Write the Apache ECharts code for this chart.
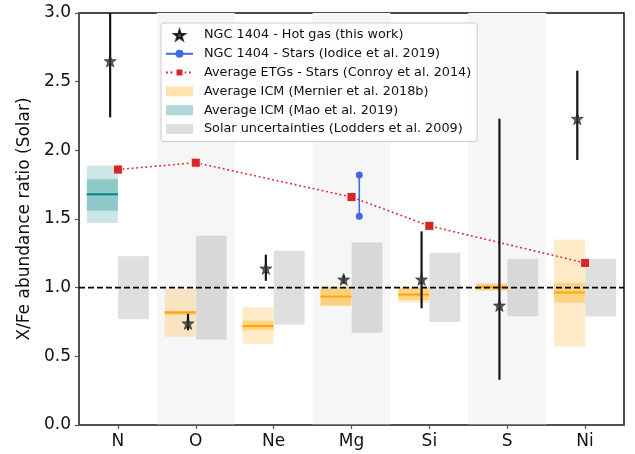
<!DOCTYPE html>
<html>
<head>
<meta charset="utf-8">
<script src="https://cdn.jsdelivr.net/npm/echarts@6/dist/echarts.min.js"></script>
<style>
  html, body { margin: 0; padding: 0; background: #fff; }
  #chart { width: 635px; height: 454px; }
</style>
</head>
<body>
<div id="chart"></div>
<script>
// Elements on the x axis
const elements = ['N', 'O', 'Ne', 'Mg', 'Si', 'S', 'Ni'];

// NGC 1404 hot gas: best fit and 1-sigma range
const hotGasRatio = [2.65, 0.74, 1.14, 1.06, 1.06, 0.87, 2.23];
const hotGasLow   = [2.24, 0.69, 1.05, 1.03, 0.85, 0.33, 1.93];
const hotGasHigh  = [3.06, 0.81, 1.24, 1.09, 1.41, 2.23, 2.58];

// NGC 1404 stars (Iodice et al. 2019), Mg only
const iodiceMg = [1.52, 1.82];

// Average ETG stars (Conroy et al. 2014); null where not measured
const etgRatio = [1.86, 1.91, null, 1.66, 1.45, null, 1.18];

// Average ICM (Mernier et al. 2018b): outer range, inner range, mean
const mernierOuterLow  = [null, 0.64, 0.59, 0.865, 0.89, 0.98, 0.57];
const mernierOuterHigh = [null, 0.99, 0.86, 1.01, 1.01, 1.03, 1.35];
const mernierInnerLow  = [null, 0.80, 0.69, 0.87, 0.91, 0.98, 0.89];
const mernierInnerHigh = [null, 0.83, 0.76, 1.005, 1.00, 1.03, 1.035];
const mernierMean      = [null, 0.82, 0.72, 0.935, 0.95, 1.005, 0.965];

// Average ICM (Mao et al. 2019), N only
const maoOuter = [1.47, 1.89];
const maoInner = [1.56, 1.79];
const maoMean = 1.68;

// Solar uncertainties (Lodders et al. 2009)
const solarLow  = [0.77, 0.62, 0.73, 0.67, 0.75, 0.79, 0.79];
const solarHigh = [1.23, 1.38, 1.27, 1.33, 1.255, 1.21, 1.21];

// Y axis ticks
const yTicks = ['0.0', '0.5', '1.0', '1.5', '2.0', '2.5', '3.0'];

const FONT = 'DejaVu Sans';
const STAR = 'path://M0,-10 L2.35,-3.24 L9.51,-3.09 L3.8,1.24 L5.88,8.09 L0,4 L-5.88,8.09 L-3.8,1.24 L-9.51,-3.09 L-2.35,-3.24 Z';

const names = {
  gas: 'NGC 1404 - Hot gas (this work)',
  iodice: 'NGC 1404 - Stars (Iodice et al. 2019)',
  etg: 'Average ETGs - Stars (Conroy et al. 2014)',
  mernier: 'Average ICM (Mernier et al. 2018b)',
  mao: 'Average ICM (Mao et al. 2019)',
  solar: 'Solar uncertainties (Lodders et al. 2009)'
};

// Box with optional inner band and mean line, placed beside the element
function boxRenderer(outerFill, innerFill, lineColor, x0, x1) {
  return function (params, api) {
    const i = api.value(0);
    const children = [];
    const a = api.coord([i + x0, api.value(2)]);
    const b = api.coord([i + x1, api.value(1)]);
    children.push({
      type: 'rect',
      shape: { x: a[0], y: a[1], width: b[0] - a[0], height: b[1] - a[1] },
      style: { fill: outerFill, stroke: 'rgba(255,255,255,0.25)', lineWidth: 1 }
    });
    if (innerFill) {
      const c = api.coord([i + x0, api.value(4)]);
      const d = api.coord([i + x1, api.value(3)]);
      children.push({
        type: 'rect',
        shape: { x: c[0], y: c[1], width: d[0] - c[0], height: d[1] - c[1] },
        style: { fill: innerFill }
      });
      const m = api.coord([i + x0, api.value(5)]);
      children.push({
        type: 'line',
        shape: { x1: m[0], y1: m[1], x2: b[0], y2: m[1] },
        style: { stroke: lineColor, lineWidth: 2 }
      });
    }
    return { type: 'group', children: children };
  };
}

const solarData = elements.map((e, i) => [i, solarLow[i], solarHigh[i]]);
const mernierData = [];
elements.forEach((e, i) => {
  if (mernierMean[i] != null) {
    mernierData.push([i, mernierOuterLow[i], mernierOuterHigh[i],
      mernierInnerLow[i], mernierInnerHigh[i], mernierMean[i]]);
  }
});
const maoData = [[elements.indexOf('N'), maoOuter[0], maoOuter[1], maoInner[0], maoInner[1], maoMean]];
const bandData = elements.map((e, i) => i).filter(i => i % 2 === 1).map(i => [i]);

const gasOffset = -0.1;
const gasErrData = elements.map((e, i) => [i + gasOffset, hotGasLow[i], hotGasHigh[i]]);
const gasData = elements.map((e, i) => [i + gasOffset, hotGasRatio[i]]);
const mgIndex = elements.indexOf('Mg');
const iodiceData = iodiceMg.map(v => [mgIndex + 0.1, v]);
const etgData = etgRatio.map((v, i) => [i, v]);

const chart = echarts.init(document.getElementById('chart'), null, { renderer: 'canvas' });

chart.setOption({
  animation: false,
  textStyle: { fontFamily: FONT },
  grid: {
    left: 79, right: 11, top: 13, bottom: 29,
    show: true, borderColor: '#111', borderWidth: 1.5, backgroundColor: 'transparent'
  },
  legend: {
    orient: 'vertical',
    left: 161, top: 23,
    itemWidth: 27, itemHeight: 10, itemGap: 5.8,
    padding: [5.5, 6, 6, 4],
    backgroundColor: 'rgba(255,255,255,0.85)',
    borderColor: '#cccccc', borderWidth: 1, borderRadius: 3,
    textStyle: { fontFamily: FONT, fontSize: 12.8, lineHeight: 13, color: '#111', padding: [0, 0, 0, 6] },
    z: 20,
    data: [
      { name: names.gas, icon: STAR, itemStyle: { color: '#2b2b2b' } },
      { name: names.iodice },
      { name: names.etg },
      { name: names.mernier, icon: 'rect', itemStyle: { color: 'rgba(255,165,0,0.3)' } },
      { name: names.mao, icon: 'rect', itemStyle: { color: 'rgba(0,128,128,0.3)' } },
      { name: names.solar, icon: 'rect', itemStyle: { color: 'rgba(128,128,128,0.25)' } }
    ]
  },
  xAxis: [
    {
      type: 'category',
      data: elements,
      boundaryGap: true,
      axisLine: { show: true, onZero: false, lineStyle: { color: '#555', width: 1.5 } },
      axisTick: { show: true, alignWithLabel: true, length: 4, lineStyle: { color: '#555', width: 1.2 } },
      axisLabel: { fontSize: 17, color: '#111', margin: 8, fontFamily: FONT },
      splitLine: { show: false }
    },
    {
      type: 'value',
      min: -0.5, max: 6.5,
      show: false,
      axisLine: { onZero: false },
      splitLine: { show: false }
    }
  ],
  yAxis: {
    type: 'value',
    min: 0, max: 3, interval: 0.5,
    name: 'X/Fe abundance ratio (Solar)',
    nameLocation: 'middle',
    nameGap: 46,
    nameTextStyle: { fontSize: 17, color: '#111', fontFamily: FONT },
    axisLine: { show: true, onZero: false, lineStyle: { color: '#555', width: 1.5 } },
    axisTick: { show: true, length: 4, lineStyle: { color: '#555', width: 1.2 } },
    axisLabel: {
      fontSize: 17, color: '#111', margin: 8, fontFamily: FONT,
      formatter: v => yTicks[Math.round(v / 0.5)]
    },
    splitLine: { show: false }
  },
  series: [
    {
      // alternating background bands
      type: 'custom', xAxisIndex: 1, silent: true, z: 0,
      data: bandData,
      renderItem: function (params, api) {
        const i = api.value(0);
        const a = api.coord([i - 0.5, 3]);
        const b = api.coord([i + 0.5, 0]);
        return { type: 'rect', shape: { x: a[0], y: a[1], width: b[0] - a[0], height: b[1] - a[1] },
                 style: { fill: '#f6f6f6' } };
      }
    },
    {
      name: names.solar, type: 'custom', xAxisIndex: 1, silent: true, z: 1,
      itemStyle: { color: 'rgba(128,128,128,0.25)' },
      data: solarData,
      renderItem: boxRenderer('rgba(128,128,128,0.25)', null, null, 0, 0.4)
    },
    {
      name: names.mernier, type: 'custom', xAxisIndex: 1, silent: true, z: 2,
      itemStyle: { color: 'rgba(255,165,0,0.3)' },
      data: mernierData,
      renderItem: boxRenderer('rgba(255,165,0,0.22)', 'rgba(255,165,0,0.33)', '#ffa500', -0.4, 0)
    },
    {
      name: names.mao, type: 'custom', xAxisIndex: 1, silent: true, z: 2,
      itemStyle: { color: 'rgba(0,128,128,0.3)' },
      data: maoData,
      renderItem: boxRenderer('rgba(0,128,128,0.2)', 'rgba(0,128,128,0.3)', '#008080', -0.4, 0)
    },
    {
      // solar reference level
      type: 'line', xAxisIndex: 1, silent: true, z: 3,
      data: [[-0.5, 1], [6.5, 1]],
      symbol: 'none',
      lineStyle: { color: '#000', width: 1.6, type: [6, 3] }
    },
    {
      name: names.etg, type: 'line', xAxisIndex: 1, z: 4,
      data: etgData,
      connectNulls: true,
      symbol: 'rect', symbolSize: 9,
      itemStyle: { color: '#d62728', borderColor: '#fff', borderWidth: 0.8 },
      lineStyle: { color: '#d62728', width: 1.6, type: [1.8, 2.8] }
    },
    {
      name: names.iodice, type: 'line', xAxisIndex: 1, z: 4,
      data: iodiceData,
      symbol: 'circle', symbolSize: 7,
      itemStyle: { color: '#4169e1' },
      lineStyle: { color: '#4169e1', width: 1.6 }
    },
    {
      // hot gas error bars
      type: 'custom', xAxisIndex: 1, silent: true, z: 5, clip: true,
      data: gasErrData,
      renderItem: function (params, api) {
        const lo = api.coord([api.value(0), api.value(1)]);
        const hi = api.coord([api.value(0), api.value(2)]);
        return { type: 'line', shape: { x1: lo[0], y1: lo[1], x2: hi[0], y2: hi[1] },
                 style: { stroke: '#151515', lineWidth: 2.2 } };
      }
    },
    {
      name: names.gas, type: 'scatter', xAxisIndex: 1, z: 6,
      data: gasData,
      symbol: STAR, symbolSize: 12,
      itemStyle: { color: '#333333', borderColor: '#000', borderWidth: 0.6 }
    }
  ]
});
</script>
</body>
</html>
